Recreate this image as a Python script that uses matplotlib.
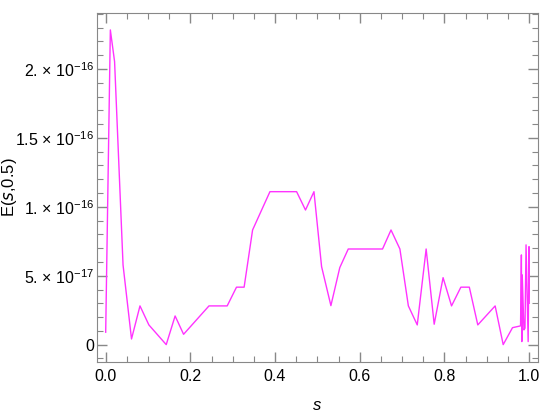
import matplotlib
matplotlib.use("Agg")
import matplotlib.pyplot as plt
from matplotlib.ticker import FixedLocator, MultipleLocator, FuncFormatter

plt.rcParams["font.family"] = ["Liberation Sans", "DejaVu Sans"]
plt.rcParams["mathtext.default"] = "regular"

# error curve E(s, 0.5) (y in units of 1e-16)
s_vals = [0.0, 0.011, 0.021, 0.041, 0.061, 0.081, 0.102, 0.143, 0.164, 0.184,
          0.244, 0.287, 0.309, 0.327, 0.347, 0.388, 0.451, 0.472, 0.492, 0.510,
          0.532, 0.553, 0.573, 0.654, 0.674, 0.695, 0.715, 0.736, 0.757, 0.776,
          0.797, 0.817, 0.839, 0.859, 0.879, 0.920, 0.939, 0.961, 0.980, 0.982,
          0.983, 0.984, 0.988, 0.9905, 0.993, 0.998, 1.0, 1.0]
e_vals = [0.09, 2.284, 2.054, 0.578, 0.041, 0.281, 0.143, 0.0, 0.208, 0.075,
          0.281, 0.281, 0.417, 0.417, 0.832, 1.11, 1.11, 0.977, 1.11, 0.566,
          0.283, 0.559, 0.694, 0.694, 0.832, 0.694, 0.281, 0.143, 0.694, 0.148,
          0.486, 0.281, 0.417, 0.417, 0.143, 0.281, 0.0, 0.123, 0.136, 0.651,
          0.022, 0.506, 0.107, 0.12, 0.724, 0.022, 0.711, 0.3]
e_vals = [v * 1e-16 for v in e_vals]

y_ticks = [0, 5e-17, 1e-16, 1.5e-16, 2e-16]
y_labels = ["0", r"5. × 10$^{-17}$", r"1. × 10$^{-16}$",
            r"1.5 × 10$^{-16}$", r"2. × 10$^{-16}$"]

fig = plt.figure(figsize=(5.5, 4.18), dpi=100)
ax = fig.add_axes([0.176, 0.134, 0.802, 0.835])

ax.plot(s_vals, e_vals, color="#ff33ff", linewidth=1.0)

ax.set_xlim(-0.021, 1.021)
ax.set_ylim(-0.126e-16, 2.407e-16)

ax.xaxis.set_major_locator(MultipleLocator(0.2))
ax.xaxis.set_minor_locator(MultipleLocator(0.05))
ax.yaxis.set_major_locator(FixedLocator(y_ticks))
ax.yaxis.set_minor_locator(MultipleLocator(1e-17))
ax.yaxis.set_major_formatter(FuncFormatter(lambda v, p: y_labels[p] if p < len(y_labels) else ""))
ax.xaxis.set_major_formatter(FuncFormatter(lambda v, p: f"{v:.1f}"))

for side in ax.spines.values():
    side.set_color("#888888")
ax.tick_params(which="both", direction="in", top=True, right=True,
               color="#888888", labelsize=11.5, labelcolor="black")
ax.tick_params(which="major", length=7, width=1)
ax.tick_params(which="minor", length=4, width=0.8)
ax.tick_params(axis="x", pad=5)
ax.tick_params(axis="y", pad=2)

ax.set_xlabel("s", fontsize=12, style="italic", labelpad=10)
ax.set_ylabel(r"E($\mathit{s}$,0.5)", fontsize=12)
ax.yaxis.set_label_coords(-0.176, 0.5)

fig.savefig("out.png", dpi=100)
